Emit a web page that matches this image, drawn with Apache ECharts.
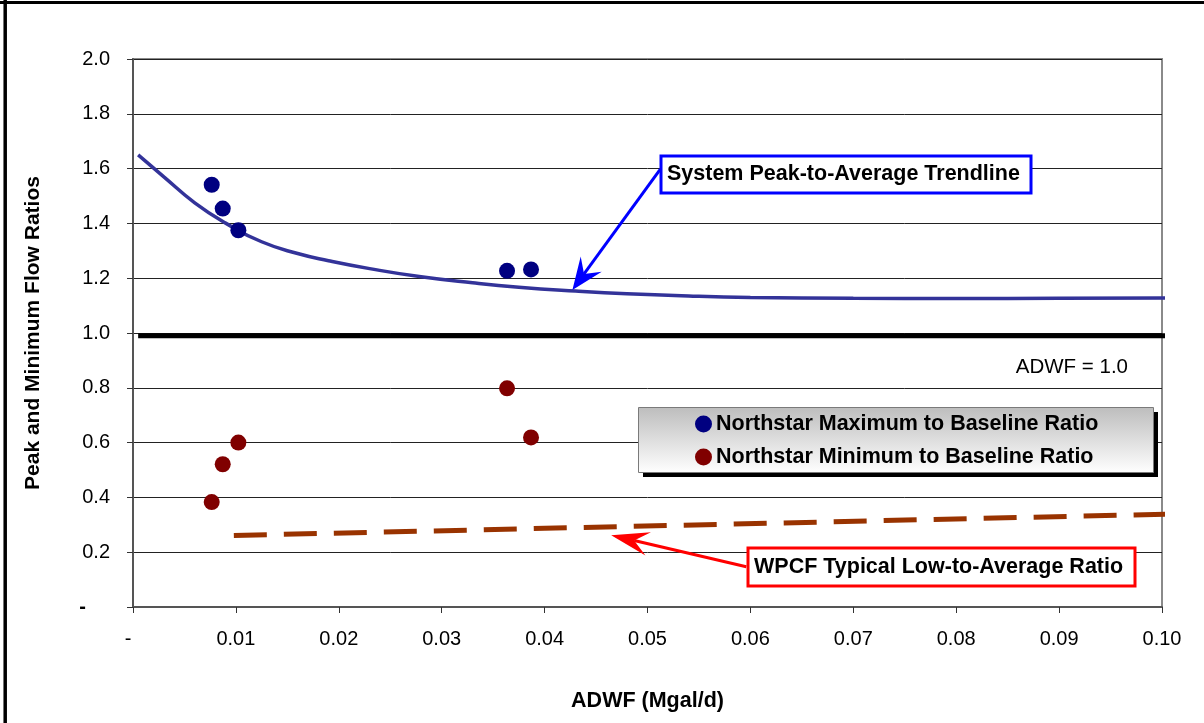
<!DOCTYPE html>
<html><head><meta charset="utf-8">
<script src="https://cdn.jsdelivr.net/npm/echarts@6/dist/echarts.min.js"></script>
<style>html,body{margin:0;padding:0;background:#fff}#c{width:1204px;height:723px}</style>
</head><body><div id="c"></div>
<script>
// ---- data ----
const maxX = [0.00765, 0.00872, 0.01024, 0.03635, 0.03868];
const maxY = [1.541, 1.454, 1.375, 1.227, 1.232];
const minX = [0.00765, 0.00872, 0.01024, 0.03635, 0.03868];
const minY = [0.383, 0.521, 0.600, 0.798, 0.619];
const trendX = [0.0005, 0.003, 0.006, 0.009, 0.0125, 0.016, 0.019, 0.023, 0.028, 0.033, 0.0375, 0.043, 0.048, 0.054, 0.060, 0.070, 0.080, 0.090, 0.1005];
const trendY = [1.650, 1.570, 1.475, 1.401, 1.333, 1.290, 1.264, 1.235, 1.205, 1.183, 1.167, 1.153, 1.143, 1.135, 1.130, 1.127, 1.126, 1.127, 1.128];
const wpcfX = [0.0098, 0.1005];
const wpcfY = [0.261, 0.339];
const adwfX = [0.0005, 0.1005];
const adwfY = [0.99, 0.99];
const xTickLabels = ['-', '0.01', '0.02', '0.03', '0.04', '0.05', '0.06', '0.07', '0.08', '0.09', '0.10'];
const yTickLabels = ['-', '0.2', '0.4', '0.6', '0.8', '1.0', '1.2', '1.4', '1.6', '1.8', '2.0'];
const seriesNames = ['Northstar Maximum to Baseline Ratio', 'Northstar Minimum to Baseline Ratio'];
const xTitle = 'ADWF (Mgal/d)';
const yTitle = 'Peak and Minimum Flow Ratios';
const trendNote = 'System Peak-to-Average Trendline';
const wpcfNote = 'WPCF Typical Low-to-Average Ratio';
const adwfNote = 'ADWF = 1.0';
// arrow anchors in data coordinates: [fromX, fromY, toX, toY]
const trendArrow = [0.05125, 1.598, 0.0427, 1.157];
const wpcfArrow = [0.0596, 0.147, 0.04647, 0.262];

const zip = (a, b) => a.map((v, i) => [v, b[i]]);
const FONT = '"Liberation Sans", Arial, sans-serif';

const chart = echarts.init(document.getElementById('c'), null, {renderer: 'canvas'});
const option = {
  backgroundColor: '#fff',
  animation: false,
  grid: {left: 133, right: 42, top: 59, bottom: 116, show: true, borderColor: '#8a8a8a', borderWidth: 2, backgroundColor: 'transparent'},
  xAxis: {
    type: 'value', min: 0, max: 0.1, interval: 0.01,
    name: xTitle, nameLocation: 'middle', nameGap: 83,
    nameTextStyle: {fontFamily: FONT, fontSize: 21.5, fontWeight: 'bold', color: '#000'},
    axisLine: {show: true, lineStyle: {color: '#555', width: 2}},
    axisTick: {show: true, inside: false, length: 6, lineStyle: {color: '#333', width: 1}},
    axisLabel: {
      margin: 22, color: '#000', fontFamily: FONT, fontSize: 20,
      formatter: (v) => { const i = Math.round(v / 0.01); return i === 0 ? '{d|' + xTickLabels[0] + '}' : xTickLabels[i]; },
      rich: {d: {fontFamily: FONT, fontSize: 20, color: '#000', padding: [0, 10, 0, 0]}}
    },
    splitLine: {show: false}
  },
  yAxis: {
    type: 'value', min: 0, max: 2, interval: 0.2,
    name: yTitle, nameLocation: 'middle', nameGap: 89, nameRotate: 90,
    nameTextStyle: {fontFamily: FONT, fontSize: 21, fontWeight: 'bold', color: '#000'},
    axisLine: {show: true, lineStyle: {color: '#555', width: 2}},
    axisTick: {show: true, inside: false, length: 6, lineStyle: {color: '#333', width: 1}},
    axisLabel: {
      margin: 23, color: '#000', fontFamily: FONT, fontSize: 20,
      formatter: (v) => { const i = Math.round(v / 0.2); return i === 0 ? '{d|' + yTickLabels[0] + '}' : yTickLabels[i]; },
      rich: {d: {fontFamily: FONT, fontSize: 20, fontWeight: 'bold', color: '#000', padding: [0, 24, 0, 0]}}
    },
    splitLine: {show: true, lineStyle: {color: '#222', width: 1}}
  },
  legend: {
    data: seriesNames,
    orient: 'vertical', left: 638, top: 407, z: 10,
    padding: [6, 55, 4, 57], itemGap: 11,
    itemWidth: 17, itemHeight: 17, icon: 'circle',
    textStyle: {fontFamily: FONT, fontSize: 21.5, fontWeight: 'bold', color: '#000', lineHeight: 22, padding: [0, 0, 0, -1]},
    backgroundColor: 'transparent', borderWidth: 0,
    selectedMode: false
  },
  series: [
    {name: 'ADWF', type: 'line', data: zip(adwfX, adwfY), showSymbol: false, clip: false, z: 3,
     lineStyle: {color: '#000', width: 5}, silent: true},
    {name: 'Trend', type: 'line', data: zip(trendX, trendY), smooth: 0.5, showSymbol: false, clip: false, z: 4,
     lineStyle: {color: '#333399', width: 3.5}, silent: true},
    {name: 'WPCF', type: 'line', data: zip(wpcfX, wpcfY), showSymbol: false, clip: false, z: 4,
     lineStyle: {color: '#993300', width: 5, type: [33, 17]}, silent: true},
    {name: seriesNames[0], type: 'scatter', data: zip(maxX, maxY), symbol: 'circle', symbolSize: 16, z: 5,
     itemStyle: {color: '#000080', opacity: 1}},
    {name: seriesNames[1], type: 'scatter', data: zip(minX, minY), symbol: 'circle', symbolSize: 16, z: 5,
     itemStyle: {color: '#800000', opacity: 1}}
  ]
};
chart.setOption(option);

function arrow(a, color, headLen, headHalf) {
  const p0 = chart.convertToPixel({gridIndex: 0}, [a[0], a[1]]);
  const p1 = chart.convertToPixel({gridIndex: 0}, [a[2], a[3]]);
  const dx = p1[0] - p0[0], dy = p1[1] - p0[1];
  const L = Math.hypot(dx, dy), ux = dx / L, uy = dy / L, nx = -uy, ny = ux;
  const bx = p1[0] - ux * headLen, by = p1[1] - uy * headLen;
  const nxp = p1[0] - ux * headLen * 0.62, nyp = p1[1] - uy * headLen * 0.62;
  return [
    {type: 'line', z: 20, shape: {x1: p0[0], y1: p0[1], x2: nxp, y2: nyp}, style: {stroke: color, lineWidth: 3}},
    {type: 'polygon', z: 20, shape: {points: [[p1[0], p1[1]], [bx + nx * headHalf, by + ny * headHalf], [nxp, nyp], [bx - nx * headHalf, by - ny * headHalf]]}, style: {fill: color}}
  ];
}
function box(x, y, w, h, color, txt, tx) {
  return [
    {type: 'rect', z: 21, shape: {x: x, y: y, width: w, height: h}, style: {fill: '#fff', stroke: color, lineWidth: 3}},
    {type: 'text', z: 22, x: tx, y: y + h / 2, style: {text: txt, fontFamily: FONT, fontSize: 21.5, fontWeight: 'bold', fill: '#000', verticalAlign: 'middle', align: 'left'}}
  ];
}
const g = [].concat(
  // legend frame: black drop shadow + grey gradient panel
  [{type: 'rect', z: 6, shape: {x: 643, y: 412, width: 515, height: 65}, style: {fill: '#000'}},
   {type: 'rect', z: 7, shape: {x: 638.5, y: 407.5, width: 515, height: 65},
    style: {fill: new echarts.graphic.LinearGradient(0, 0, 0, 1, [{offset: 0, color: '#bdbdbd'}, {offset: 1, color: '#ffffff'}]), stroke: '#7a7a7a', lineWidth: 1}}],
  arrow(trendArrow, '#0000ff', 32, 13),
  arrow(wpcfArrow, '#ff0000', 38, 12),
  box(661, 156, 370, 37, '#0000ff', trendNote, 667),
  box(748, 548, 387, 38, '#ff0000', wpcfNote, 754),
  [{type: 'text', z: 22, x: 1128, y: 367, style: {text: adwfNote, fontFamily: FONT, fontSize: 20.5, fill: '#000', align: 'right', verticalAlign: 'middle'}},
   {type: 'line', z: 30, shape: {x1: 0, y1: 2.5, x2: 1204, y2: 2.5}, style: {stroke: '#000', lineWidth: 3}},
   {type: 'line', z: 30, shape: {x1: 5.2, y1: 0, x2: 5.2, y2: 723}, style: {stroke: '#000', lineWidth: 3.5}}]
);
chart.setOption({graphic: g});
</script></body></html>
